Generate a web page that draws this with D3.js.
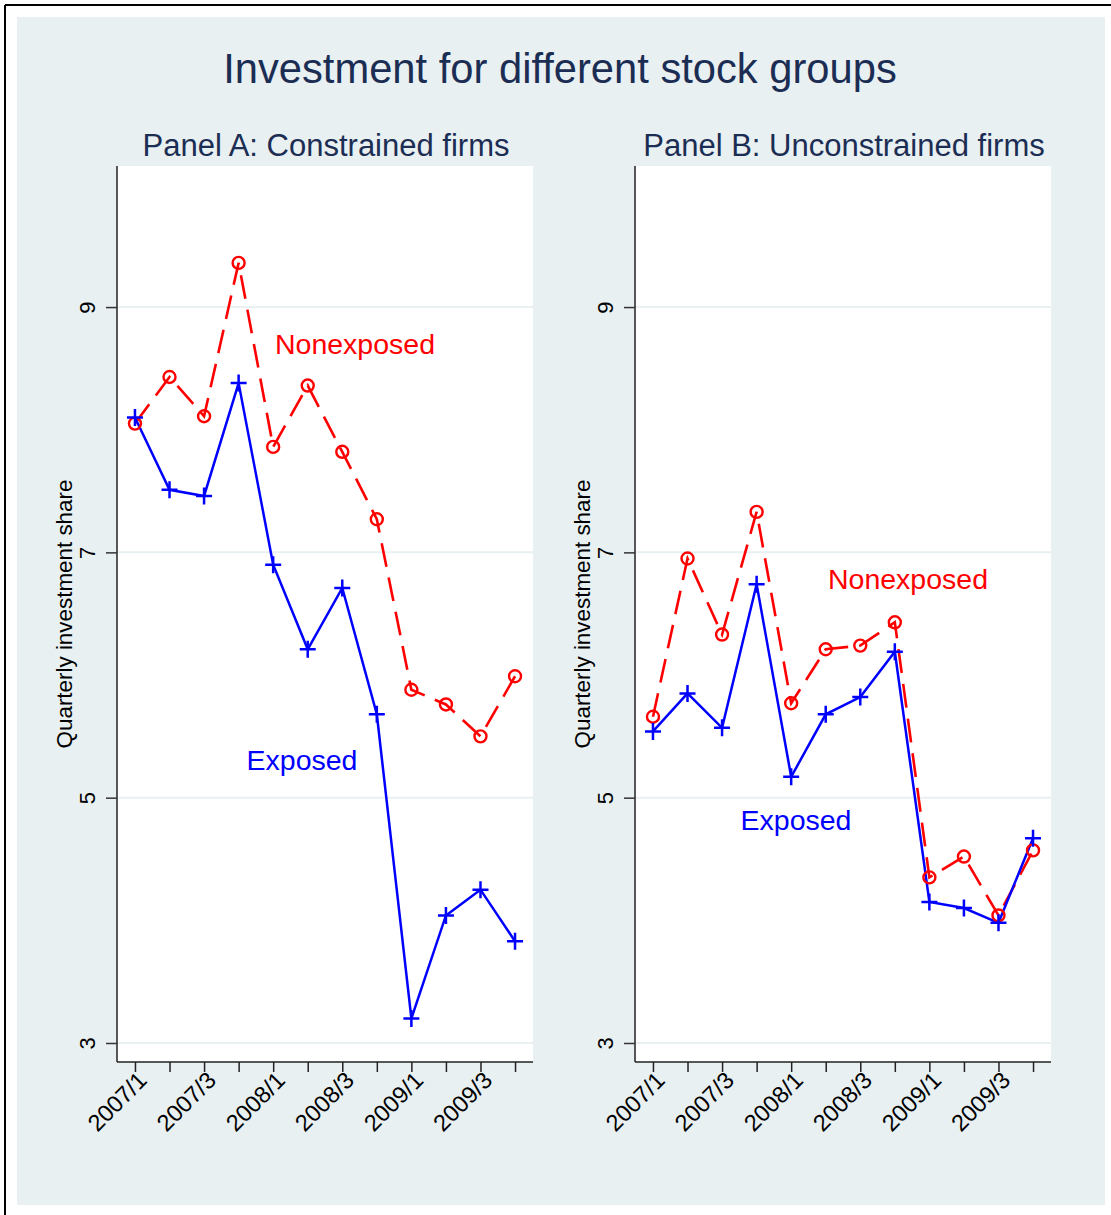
<!DOCTYPE html>
<html><head><meta charset="utf-8">
<script src="https://cdn.jsdelivr.net/npm/d3@7"></script>
<style>body{margin:0;background:#fff;}svg{display:block;font-family:"Liberation Sans",Arial,sans-serif;}</style>
</head><body>
<svg id="chart" width="1111" height="1215"></svg>
<script>
const quarters = ["2007/1","2007/2","2007/3","2007/4","2008/1","2008/2","2008/3","2008/4","2009/1","2009/2","2009/3","2009/4"];
const tickLabels = ["2007/1","2007/3","2008/1","2008/3","2009/1","2009/3"];
const yTicks = [3,5,7,9];
const panelTitles = ["Panel A: Constrained firms","Panel B: Unconstrained firms"];
const seriesNames = ["Nonexposed","Exposed"];
const aNonexposed = [8.05,8.43,8.11,9.36,7.86,8.36,7.82,7.27,5.88,5.76,5.50,5.99];
const aExposed    = [8.10,7.51,7.46,8.38,6.90,6.21,6.71,5.68,3.20,4.04,4.25,3.83];
const bNonexposed = [5.66,6.95,6.33,7.33,5.77,6.21,6.24,6.43,4.35,4.52,4.04,4.57];
const bExposed    = [5.54,5.85,5.57,6.74,5.17,5.68,5.82,6.19,4.15,4.10,3.98,4.67];

const svg = d3.select("#chart");
svg.append("rect").attr("x",17).attr("y",17).attr("width",1088).attr("height",1188).attr("fill","#e8f0f2");
svg.append("line").attr("x1",5).attr("x2",1111).attr("y1",5).attr("y2",5).attr("stroke","#000").attr("stroke-width",2);
svg.append("line").attr("x1",5).attr("x2",5).attr("y1",5).attr("y2",1215).attr("stroke","#000").attr("stroke-width",2);

svg.append("text").attr("x",560).attr("y",83).attr("text-anchor","middle")
  .attr("font-size",41.7).attr("fill","#1c2d54").text("Investment for different stock groups");

const panels = [
  {left:117, right:533, non:aNonexposed, exp:aExposed, title:panelTitles[0], nonLbl:[355,344], expLbl:[302,760]},
  {left:635, right:1051, non:bNonexposed, exp:bExposed, title:panelTitles[1], nonLbl:[908,579], expLbl:[796,820]}
];
const plotTop = 166, plotBottom = 1062;
const y = d3.scaleLinear().domain([3 - 19/122.6, 9 + 141/122.6]).range([plotBottom, plotTop]);

panels.forEach(p => {
  const g = svg.append("g");
  const x = d3.scaleLinear().domain([-0.52, 11.52]).range([p.left, p.right]);
  g.append("rect").attr("x",p.left).attr("y",plotTop).attr("width",p.right-p.left).attr("height",plotBottom-plotTop).attr("fill","#fff");
  g.selectAll(".grid").data(yTicks).enter().append("line")
    .attr("x1",p.left).attr("x2",p.right).attr("y1",d=>y(d)).attr("y2",d=>y(d))
    .attr("stroke","#e8f0f2").attr("stroke-width",2);
  g.append("text").attr("x",(p.left+p.right)/2 + 1).attr("y",156).attr("text-anchor","middle")
    .attr("font-size",31).attr("fill","#1c2d54").text(p.title);
  const ya = g.append("g").attr("transform",`translate(${p.left},0)`)
    .call(d3.axisLeft(y).tickValues(yTicks).tickSize(11).tickPadding(0).tickFormat(d3.format("d")));
  ya.select(".domain").attr("stroke","#222").attr("stroke-width",1.5).attr("d",`M0,${plotTop}V${plotBottom}`);
  ya.selectAll(".tick line").attr("stroke","#333").attr("stroke-width",1.5);
  ya.selectAll(".tick text").attr("font-size",22).attr("fill","#000").attr("text-anchor","middle")
    .attr("transform","translate(-30,0) rotate(-90)").attr("x",0).attr("dy","0.35em");
  g.append("text").attr("transform",`translate(${p.left-45},${(plotTop+plotBottom)/2}) rotate(-90)`)
    .attr("text-anchor","middle").attr("font-size",22.4).attr("fill","#000").text("Quarterly investment share");
  const xa = g.append("g").attr("transform",`translate(0,${plotBottom})`)
    .call(d3.axisBottom(x).tickValues(d3.range(quarters.length)).tickSize(10)
      .tickFormat(i => tickLabels.includes(quarters[i]) ? quarters[i] : ""));
  xa.select(".domain").attr("stroke","#222").attr("stroke-width",1.5).attr("d",`M${p.left},0H${p.right}`);
  xa.selectAll(".tick line").attr("stroke","#222").attr("stroke-width",1.5);
  xa.selectAll(".tick text").attr("font-size",23.5).attr("fill","#000").attr("text-anchor","end")
    .attr("transform","translate(7,14) rotate(-45)").attr("x",0).attr("y",0).attr("dy","0.35em");
  const line = d3.line().x((d,i)=>x(i)).y(d=>y(d));
  g.append("path").datum(p.non).attr("d",line).attr("fill","none").attr("stroke","#ff0000")
    .attr("stroke-width",2.6).attr("stroke-dasharray","24,11");
  g.append("path").datum(p.exp).attr("d",line).attr("fill","none").attr("stroke","#0000ff")
    .attr("stroke-width",2.5);
  g.selectAll(".circ").data(p.non).enter().append("circle")
    .attr("cx",(d,i)=>x(i)).attr("cy",d=>y(d)).attr("r",6)
    .attr("fill","none").attr("stroke","#ff0000").attr("stroke-width",2.4);
  g.selectAll(".plus").data(p.exp).enter().append("path")
    .attr("d",(d,i)=>`M${x(i)-8},${y(d)}H${x(i)+8}M${x(i)},${y(d)-8.5}V${y(d)+8.5}`)
    .attr("stroke","#0000ff").attr("stroke-width",2.5);
  g.append("text").attr("x",p.nonLbl[0]).attr("y",p.nonLbl[1]).attr("dy","0.35em").attr("text-anchor","middle")
    .attr("font-size",28.5).attr("fill","#ff0000").text(seriesNames[0]);
  g.append("text").attr("x",p.expLbl[0]).attr("y",p.expLbl[1]).attr("dy","0.35em").attr("text-anchor","middle")
    .attr("font-size",28.5).attr("fill","#0000ff").text(seriesNames[1]);
});
</script>
</body></html>
